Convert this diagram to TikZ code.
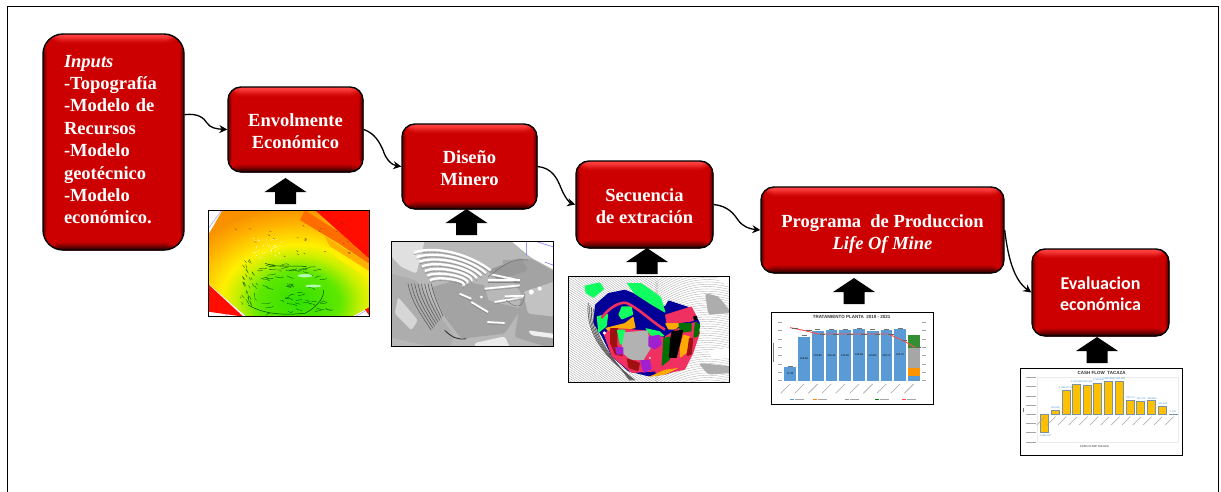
\documentclass[tikz,border=0pt]{standalone}
\usepackage{fontspec}
\setmainfont{Liberation Serif}
\newfontfamily\calfont{Carlito}
\newfontfamily\lsans{Liberation Sans}
\usetikzlibrary{arrows.meta,calc}
\definecolor{boxred}{HTML}{CC0000}
\definecolor{hired}{HTML}{FF4040}
\definecolor{lored}{HTML}{3A0000}
\definecolor{barblue}{HTML}{5B9BD5}
\definecolor{gold}{HTML}{FFC000}
\definecolor{cashblue}{HTML}{3C8FD8}
\definecolor{sblue}{HTML}{000099}
\definecolor{sgreen}{HTML}{10FF60}
\definecolor{sred}{HTML}{F03060}
\definecolor{smag}{HTML}{A020D0}
\definecolor{sdkg}{HTML}{007000}
\definecolor{sora}{HTML}{FFAA00}
\definecolor{scrim}{HTML}{A01010}
\definecolor{tga}{HTML}{30E000}
\definecolor{tgb}{HTML}{60E800}
\definecolor{tgc}{HTML}{C8F000}
\definecolor{tgd}{HTML}{FFF000}
\definecolor{tge}{HTML}{FFB000}
\definecolor{tgf}{HTML}{F89000}
\pgfdeclareradialshading{terr}{\pgfpoint{0bp}{0bp}}{color(0bp)=(tga);color(8bp)=(tgb);color(12bp)=(tgc);color(15bp)=(tgd);color(21bp)=(tge);color(25bp)=(tgf);color(50bp)=(tgf)}
\tikzset{
  redbox/.style={draw=black,line width=1.4pt,fill=boxred,text=white,font=\fontsize{18.5}{22}\selectfont\bfseries,align=center,inner sep=0pt,
    path picture={
      \foreach \dd/\pp in {10/5,9/12,8/22,7/35,6/50,5/65,4/80,3/92,2/100,1/100} {
        \fill[hired!\pp!boxred] (path picture bounding box.north west) rectangle ([yshift={-\dd*1pt}]path picture bounding box.north east);}
      \foreach \dd/\pp in {8/8,7/18,6/30,5/45,4/60,3/75,2/88,1/100} {
        \fill[lored!\pp!boxred] (path picture bounding box.south west) rectangle ([yshift={\dd*1pt}]path picture bounding box.south east);}
      \foreach \dd/\pp in {4/15,3/35,2/55,1/80} {
        \fill[lored!\pp!boxred] (path picture bounding box.south west) rectangle ([xshift={\dd*1pt}]path picture bounding box.north west);
        \fill[lored!\pp!boxred] (path picture bounding box.south east) rectangle ([xshift={-\dd*1pt}]path picture bounding box.north east);}
    }},
  flow/.style={line width=1.3pt,-{Stealth[length=8pt,width=8pt]}},
  imgframe/.style={draw=black,line width=1pt},
  tinylabel/.style={font=\lsans\fontsize{2.6}{3}\selectfont,inner sep=0pt},
}
\newcommand\blockup[2]{\fill[black] (#1,#2) -- ++(21,14) -- ++(-10.5,0) -- ++(0,12) -- ++(-21,0) -- ++(0,-12) -- ++(-10.5,0) -- cycle;}
\newcommand\pushdown[1]{\rule{0pt}{#1}}
\begin{document}
\begin{tikzpicture}[x=1pt,y=-1pt]
\useasboundingbox (0,0) rectangle (1221,491);
\fill[white] (0,0) rectangle (1221,491);
\draw[line width=1pt] (7,6) rectangle (1218,500);

% boxes
\node[redbox,minimum width=141pt,minimum height=216pt,rounded corners=20pt,text width=99pt,align=left,font=\fontsize{18.5}{22.4}\selectfont\bfseries] (inp) at (113.5,142)
  {\textit{Inputs}\\-Topografía\\-Modelo de\\Recursos\\-Modelo\\geotécnico\\-Modelo\\económico.\rule[-5pt]{0pt}{5pt}};
\node[redbox,minimum width=135pt,minimum height=85pt,rounded corners=13pt] (env) at (295.5,129.5) {\pushdown{17pt}Envolmente\\Económico};
\node[redbox,minimum width=135pt,minimum height=85pt,rounded corners=13pt] (dis) at (469.5,166.5) {\pushdown{17pt}Diseño\\Minero};
\node[redbox,minimum width=137pt,minimum height=87pt,rounded corners=13pt] (sec) at (644.5,204.5) {\pushdown{17pt}Secuencia\\de extración};
\node[redbox,minimum width=243pt,minimum height=86pt,rounded corners=13pt] (pro) at (882.5,230) {\pushdown{20pt}Programa\ \ de Produccion\\\textit{Life Of Mine}};
\node[redbox,minimum width=137pt,minimum height=87pt,rounded corners=13pt,font=\calfont\fontsize{18}{21.5}\selectfont\bfseries] (eva) at (1100.5,292.5) {\pushdown{15pt}Evaluacion\\económica};

% connectors
\draw[flow] (inp.21.7) .. controls (198,113) and (204,118) .. (207,123) .. controls (210,128) and (217,129) .. (env.west);
\draw[flow] (env.east) .. controls (374,133) and (379,141) .. (383,150) .. controls (386,160) and (392,165) .. (dis.west);
\draw[flow] (dis.east) .. controls (552,168) and (557,178) .. (561,188) .. controls (565,198) and (570,203) .. (sec.west);
\draw[flow] (sec.east) .. controls (728,206) and (734,214) .. (738,220) .. controls (743,227) and (750,229) .. (pro.west);
\draw[flow] (pro.east) .. controls (1008,258) and (1014,280) .. (eva.west);

% block arrows
\blockup{285.5}{178}
\blockup{466.5}{209}
\blockup{647}{248}
\blockup{854}{278}
\blockup{1097}{337}

% ---------- image 1: terrain
\begin{scope}[shift={(205,205)},x=.3333pt,y=-.3333pt]
  \fill[white] (10,16) rectangle (495,335);
  \begin{scope}
    \clip (10,16) rectangle (495,335);
    \draw[blue!40,line width=.5pt] (10,70) -- (50,16);
    \draw[blue!40,line width=.5pt] (10,285) -- (70,335) (495,310) -- (450,335);
    \fill[red!90!orange] (330,16) -- (495,16) -- (495,335) -- (400,200) -- cycle;
    \fill[red!90!orange] (10,238) -- (115,335) -- (10,320) -- cycle;
    \begin{scope}
      \clip (52,16) -- (330,16) -- (495,165) -- (495,305) -- (440,335) -- (125,335) -- (10,235) -- (10,90) -- cycle;
      \fill[tgf] (0,0) rectangle (500,340);
      \shade[shading=terr] (280,290) ellipse (390 and 285);
      \fill[orange!85!red] (300,16) -- (495,140) -- (495,178) -- (400,115) -- (285,45) -- cycle;
      \fill[tge] (360,95) -- (495,178) -- (495,200) -- (375,125) -- cycle;
      \fill[tgd] (375,125) -- (495,200) -- (495,222) -- (390,155) -- cycle;
      \fill[red!90!orange] (330,16) -- (495,16) -- (495,160) -- (445,105) -- cycle;
    \end{scope}
    \pgfmathsetseed{7}
    \foreach \i in {1,...,60} {\draw[green!35!black,line width=.35pt] ({150+220*rnd},{175+155*rnd}) -- ++({6+12*rnd},{-6+10*rnd}) -- ++({4+8*rnd},{-4+10*rnd});}
    \foreach \i in {1,...,36} {\draw[green!40!black,line width=.35pt] ({105+50*rnd},{160+140*rnd}) -- ++({2+6*rnd},{4+10*rnd});}
    \foreach \i in {1,...,24} {\draw[black!60!orange,line width=.3pt] ({60+400*rnd},{50+110*rnd}) -- ++({3+5*rnd},{1+4*rnd});}
    \foreach \i in {1,...,45} {\fill[white] ({140+90*rnd},{100+60*rnd}) circle (.5pt);}
    \fill[white!70!green] (300,212) ellipse (22 and 5) (325,243) ellipse (24 and 4);
    \draw[green!30!black,line width=.5pt] (130,300) .. controls (180,330) and (240,330) .. (300,325) .. controls (330,310) and (360,280) .. (355,255);
    \draw[green!30!black,line width=.5pt] (180,175) .. controls (220,190) and (270,180) .. (305,185);
  \end{scope}
  \draw[imgframe] (10,16) rectangle (495,335);
\end{scope}

% ---------- image 2: grey pit
\begin{scope}[shift={(388,237)},x=.3333pt,y=-.3333pt]
  \begin{scope}[rounded corners=2.5pt]
    \clip (11,12) rectangle (497,328);
    \fill[black!28] (0,0) rectangle (510,340);
    \fill[black!12] (11,12) -- (110,12) -- (85,110) -- (40,90) -- (11,60) -- cycle;
    \fill[black!36] (340,70) -- (430,65) -- (510,110) -- (510,340) -- (380,300) -- (400,170) -- cycle;
    \fill[black!24] (405,165) -- (510,130) -- (510,240) -- (420,230) -- cycle;
    \fill[black!32] (11,110) -- (85,130) -- (200,300) -- (180,340) -- (0,300) -- cycle;
    \fill[black!16] (30,180) -- (90,250) -- (70,280) -- (20,230) -- cycle;
    \fill[black!36] (130,150) -- (210,130) -- (290,145) -- (300,190) -- (400,215) -- (350,290) -- (220,305) -- (170,240) -- cycle;
    \fill[black!40] (300,100) -- (400,62) -- (420,100) -- (330,130) -- cycle;
    \fill[white] (355,0) -- (510,0) -- (510,105) -- (430,62) -- cycle;
    \fill[black!6] (420,280) -- (510,292) -- (510,305) -- (430,295) -- cycle;
    \fill[black!8] (260,318) -- (350,298) -- (370,340) -- (260,340) -- cycle;
  \end{scope}
  \begin{scope}
    \clip (11,12) rectangle (497,328);
    \draw[blue!60,line width=.5pt] (415,12) -- (415,55) (440,12) -- (497,30) (470,75) -- (497,85);
    \foreach \i in {0,...,6} {
      \draw[white,line width=2.3pt] ({78+8*\i},{46+14*\i}) .. controls ({150},{24+15*\i}) and ({250},{55+13*\i}) .. ({308-14*\i},{100+8*\i});
      \draw[black!50,line width=.35pt] ({78+8*\i},{53+14*\i}) .. controls ({150},{31+15*\i}) and ({250},{62+13*\i}) .. ({308-14*\i},{107+8*\i});
    }
    \foreach \a/\b/\c/\d in {310/112/385/128,300/130/395/130,290/155/395/145,320/195/405/180,350/178/410/176,298/255/350/258,250/195/300/225,215/170/250/185} {
      \draw[white,line width=1.8pt] (\a,\b) -- (\c,\d);
      \draw[black!50,line width=.35pt] (\a,{\b+6}) -- (\c,{\d+6});
    }
    \foreach \i in {0,...,7} {\draw[black!65,line width=.55pt] ({60+10*\i},{140}) .. controls ({70+10*\i},{190}) and ({90+10*\i},{220}) .. ({130+5*\i},{280-6*\i});}
    \draw[black!85,line width=.8pt] (170,280) .. controls (190,300) and (210,310) .. (235,305);
    \draw[black!55,line width=.5pt] (300,120) .. controls (340,90) and (370,60) .. (420,70);
    \draw[black!55,line width=.5pt] (355,190) .. controls (400,230) and (410,190) .. (410,170);
    \fill[white] (430,165) circle (2.5pt) (455,155) circle (2pt);
    \fill[white] (280,180) circle (1.5pt);
  \end{scope}
  \draw[imgframe] (11,12) rectangle (497,328);
\end{scope}

% ---------- image 3: sequence
\begin{scope}[shift={(565,273)},x=.3333pt,y=-.3333pt]
  \begin{scope}
    \clip (10,10) rectangle (495,328);
    \fill[white] (10,10) rectangle (495,328);
    \foreach \y in {-190,-183,...,420} {\draw[black!38,line width=.3pt] (10,\y) .. controls (90,{\y+50}) and (170,{\y+120}) .. (280,{\y+190});}
    \foreach \y in {-40,-33,...,360} {\draw[black!35,line width=.3pt] (270,{\y+70}) .. controls (350,{\y+10}) and (420,\y) .. (495,{\y+20});}
    \begin{scope}[rounded corners=3pt]
      \fill[black!32] (420,60) -- (460,70) -- (500,120) -- (430,125) -- cycle;
      \fill[black!32] (400,270) -- (500,280) -- (500,300) -- (430,305) -- cycle;
      \fill[white] (450,15) -- (500,10) -- (500,45) -- cycle;
      \fill[white] (430,232) -- (500,225) -- (500,255) -- (440,258) -- cycle;
    \end{scope}
    \foreach \i in {0,...,4} {\draw[black!65,line width=.7pt] ({70+5*\i},{90+6*\i}) .. controls ({60+5*\i},{190}) and ({130+5*\i},{260}) .. ({210-4*\i},{322});}
    % blocks
    \begin{scope}[rounded corners=.8pt]
    \fill[sgreen] (58,38) -- (105,28) -- (118,48) -- (85,75) -- (62,60) -- cycle;
    \fill[sblue] (85,150) -- (90,95) -- (130,60) -- (180,50) -- (300,100) -- (310,82) -- (380,105) -- (405,150) -- (385,230) -- (355,285) -- (300,305) -- (250,310) -- (190,295) -- (140,250) -- (110,190) -- cycle;
    \fill[sgreen] (185,30) -- (228,30) -- (288,72) -- (302,120) -- (262,97) -- (208,62) -- cycle;
    \fill[sgreen] (95,130) -- (130,122) -- (125,160) -- (100,180) -- cycle;
    \fill[sgreen] (170,100) -- (200,100) -- (205,125) -- (170,140) -- (160,125) -- cycle;
    \fill[sred] (300,125) -- (380,100) -- (395,130) -- (385,145) -- (305,155) -- cycle;
    \fill[sora] (120,165) -- (180,150) -- (205,130) -- (212,165) -- (180,172) -- (130,175) -- cycle;
    \fill[sred] (115,180) -- (150,165) -- (240,172) -- (300,195) -- (305,240) -- (280,295) -- (200,300) -- (140,250) -- cycle;
    \fill[scrim] (135,165) -- (160,165) -- (155,215) -- (175,250) -- (150,245) -- (135,210) -- cycle;
    \fill[sgreen] (155,170) -- (180,170) -- (185,215) -- (165,215) -- cycle;
    \fill[sgreen] (240,165) -- (285,175) -- (300,190) -- (260,190) -- cycle;
    \fill[black!30] (178,178) -- (248,172) -- (258,225) -- (235,262) -- (195,260) -- (168,235) -- cycle;
    \fill[smag] (250,190) -- (285,185) -- (290,215) -- (270,230) -- (250,220) -- cycle;
    \fill[smag] (150,222) -- (175,222) -- (175,245) -- (155,245) -- cycle;
    \fill[smag] (225,262) -- (255,260) -- (260,290) -- (235,300) -- cycle;
    \fill[scrim] (185,255) -- (225,270) -- (220,295) -- (190,285) -- cycle;
    \fill[sred] (300,190) -- (340,165) -- (395,145) -- (405,180) -- (385,240) -- (360,290) -- (290,305) -- (270,300) -- cycle;
    \fill[sora] (300,150) -- (355,150) -- (330,170) -- (310,170) -- cycle;
    \fill[sdkg] (340,150) -- (380,150) -- (380,175) -- (345,180) -- cycle;
    \fill[sdkg] (390,145) -- (406,155) -- (400,190) -- (385,195) -- cycle;
    \fill[black] (385,128) -- (398,130) -- (395,142) -- (385,140) -- cycle;
    \fill[sdkg] (295,195) -- (315,190) -- (315,260) -- (290,280) -- cycle;
    \fill[black] (320,175) -- (355,170) -- (345,215) -- (335,255) -- (312,255) -- (315,200) -- cycle;
    \fill[sora] (355,185) -- (375,190) -- (365,240) -- (345,255) -- (345,220) -- cycle;
    \fill[scrim] (372,195) -- (385,195) -- (380,245) -- (365,250) -- cycle;
    \fill[sora] (250,312) -- (300,290) -- (340,285) -- (300,305) -- cycle;
    \end{scope}
    \draw[sred,line width=2.6pt] (110,135) .. controls (130,105) and (165,85) .. (185,90) .. controls (220,105) and (265,150) .. (300,170);
    \fill[white] (118,180) circle (5) (255,255) circle (3);
  \end{scope}
  \draw[imgframe] (10,10) rectangle (495,328);
\end{scope}

% ---------- image 4: treatment chart
\begin{scope}[shift={(750,180)},x=.3333pt,y=-.3333pt]
  \fill[white] (63,397) rectangle (550,675);
  \node[font=\lsans\bfseries\fontsize{4.5}{5}\selectfont,text=black!80,inner sep=0pt] (t4) at (305,410) {TRATAMIENTO PLANTA\ \ 2019 - 2021};
  \foreach \x/\t/\v in {103/562/77.30,145/470/105.80,186/452/133.80,227/450/133.40,268/450/133.80,310/448/133.80,351/452/131.80,392/450/133.10,433/448/134.37} {
    \fill[barblue] (\x,602) rectangle ({\x+35},\t);
    \draw[black!55,line width=.6pt] ({\x+10},{\t-3}) -- ({\x+25},{\t-3});
    \node[tinylabel] at ({\x+17},{(602+\t)/2}) {\v};
  }
  \fill[barblue] (474,602) rectangle (509,588);
  \fill[orange!85!yellow] (474,588) rectangle (509,565);
  \fill[black!35] (474,565) rectangle (509,505);
  \fill[green!45!black!80!white] (474,505) rectangle (509,466);
  \draw[red!70!white,line width=.9pt] (120,443) -- (165,452) -- (205,462) -- (415,462) -- (460,482) -- (495,502);
  \foreach \x/\y in {135/445,177/452,217/462,258/462,300/462,342/462,382/462,423/462,463/482,505/502} {\draw[black!60,line width=.7pt] ({\x-8},\y) -- ({\x+8},\y);}
  \foreach \y in {427,452,477,502,527,552,577,602} {
    \draw[black!35,line width=.5pt] (84,\y) -- (96,\y);
    \draw[black!35,line width=.5pt] (516,\y) -- (528,\y);
  }
  \draw[black!50,line width=.8pt] (70,490) -- (70,545);
  \foreach \x in {120,162,203,244,285,327,368,409,450,491} {\draw[black!35,line width=.6pt] (\x,612) -- ({\x-28},640);}
  \foreach \x/\c in {120/barblue,190/orange,285/black!40,375/green!50!black,455/red!70} {
    \draw[\c,line width=.8pt] (\x,657) -- ({\x+12},657);
    \draw[black!35,line width=.6pt] ({\x+15},657) -- ({\x+42},657);
  }
  \draw[imgframe] (63,397) rectangle (550,675);
\end{scope}

% ---------- image 5: cash flow
\begin{scope}[shift={(1017,365)},x=.3333pt,y=-.3333pt]
  \fill[white] (10,10) rectangle (497,272);
  \draw[black!8,line width=.5pt] (60,38) rectangle (485,232);
  \node[font=\lsans\bfseries\fontsize{4.5}{5}\selectfont,text=black!80,inner sep=0pt] (t5) at (254,23) {CASH FLOW\ \ TACAZA};
  \foreach \y in {38,65,93,120,148,176,203,231} {\draw[black!35,line width=.5pt] (28,\y) -- (56,\y);}
  \draw[black!50,line width=.7pt] (19,130) -- (19,142);
  \foreach \x/\t in {70/203,103/136,135/75,166/58,198/60,230/55,262/50,295/48,327/105,359/108,391/107,423/123,456/147} {
    \fill[gold] (\x,148) rectangle ({\x+24},\t);
    \draw[cashblue!50!black!60,line width=.5pt] (\x,148) rectangle ({\x+24},\t);
  }
  \foreach \x/\y/\v in {84/212/{-1,066,000},115/127/{221,530},147/67/{1,098,177.00},178/50/{1,541,998},210/51/{1,531,392},243/45/{1,729,458},275/41/{1,853,492},308/40/{1,900,035},340/97/{785,774},372/100/{701,172},405/100/{698,869},437/115/{473,142},468/141/{7,778}} {
    \node[tinylabel,text=cashblue,font=\lsans\fontsize{2.4}{3}\selectfont] at (\x,\y) {\v};
  }
  \foreach \x in {84,116,148,180,212,244,276,308,340,372,404,436,470} {\draw[black!35,line width=.5pt] (\x,155) -- ({\x-25},180);}
  \node[font=\lsans\bfseries\fontsize{2.8}{3}\selectfont,text=black!60,inner sep=0pt] (x5) at (232,246) {CASH FLOW TACAZA};
  \draw[imgframe] (10,10) rectangle (497,272);
\end{scope}
\end{tikzpicture}
\end{document}
